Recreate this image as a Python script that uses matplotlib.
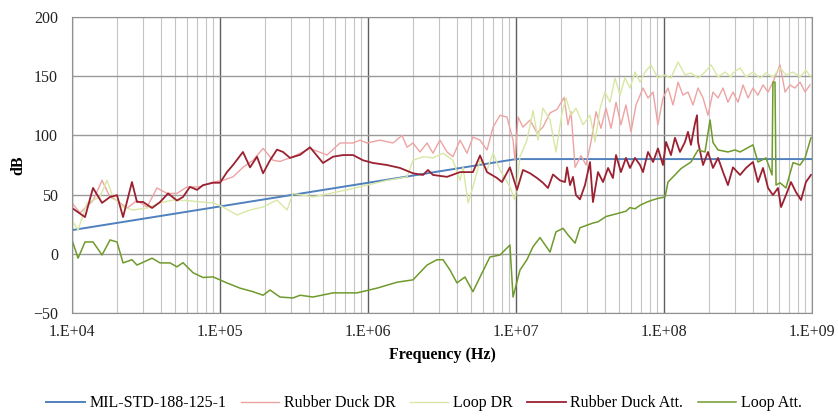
import numpy as np
import matplotlib
matplotlib.use("Agg")
import matplotlib.pyplot as plt
from matplotlib.ticker import FixedLocator, NullFormatter

plt.rcParams['font.family'] = ['Liberation Serif', 'DejaVu Serif']

# x values are log10(frequency in Hz), y values in dB
mil_logf = [4.0, 5.0, 6.0, 7.0, 9.0]
mil_db = [20, 40, 60, 80, 80]

rd_dr_logf = [4.000, 4.054, 4.142, 4.203, 4.257, 4.304, 4.372, 4.439, 4.507, 4.574,
              4.642, 4.709, 4.777, 4.865, 4.953, 5.020, 5.088, 5.155, 5.223, 5.291,
              5.358, 5.405, 5.493, 5.608, 5.723, 5.811, 5.899, 5.946, 5.993, 6.081,
              6.169, 6.230, 6.264, 6.304, 6.351, 6.399, 6.439, 6.486, 6.534, 6.574,
              6.622, 6.669, 6.709, 6.757, 6.804, 6.845, 6.892, 6.939, 6.980, 6.993,
              7.014, 7.047, 7.095, 7.142, 7.182, 7.230, 7.277, 7.325, 7.351, 7.372,
              7.399, 7.439, 7.473, 7.507, 7.541, 7.574, 7.608, 7.642, 7.676, 7.709,
              7.743, 7.777, 7.811, 7.858, 7.892, 7.926, 7.959, 7.993, 8.027, 8.061,
              8.095, 8.128, 8.162, 8.196, 8.230, 8.264, 8.297, 8.331, 8.365, 8.399,
              8.432, 8.466, 8.500, 8.534, 8.568, 8.601, 8.635, 8.669, 8.703, 8.736,
              8.784, 8.818, 8.851, 8.885, 8.919, 8.953, 8.986]
rd_dr_db = [43, 34.5, 45, 62, 48, 45, 38.6, 45, 39.5, 55.6,
            51, 51, 56.5, 56.5, 60.6, 62, 65, 73, 79, 89,
            79, 78, 82, 89, 83.4, 93.6, 93.6, 96, 93.6, 96,
            93.6, 100, 90, 93.6, 86, 93.6, 85, 96, 86, 82,
            96, 85, 98.6, 96, 87.7, 107, 117, 115.5, 96, 79,
            115.5, 107, 113, 102, 107, 119, 122, 132, 109, 120,
            73, 83, 75, 94.5, 120, 106, 123, 106, 128, 109,
            125.7, 103, 125.7, 140, 131.6, 136.6, 109, 131.6, 140, 125.7,
            145, 134, 136.6, 125.7, 140, 131.6, 117, 136.6, 131.6, 140,
            128, 136.6, 128, 142.6, 131.6, 140, 134, 142.6, 136.6, 145,
            159.5, 136.6, 142.6, 140, 145, 136.6, 142.6]

loop_dr_logf = [4.000, 4.041, 4.101, 4.189, 4.236, 4.277, 4.345, 4.412, 4.507, 4.595,
                4.682, 4.777, 4.865, 4.953, 5.020, 5.115, 5.203, 5.291, 5.385, 5.453,
                5.493, 5.628, 5.858, 5.993, 6.128, 6.264, 6.304, 6.372, 6.439, 6.507,
                6.574, 6.622, 6.642, 6.676, 6.709, 6.757, 6.804, 6.845, 6.892, 6.959,
                6.993, 7.027, 7.074, 7.115, 7.149, 7.182, 7.230, 7.270, 7.311, 7.338,
                7.372, 7.405, 7.453, 7.500, 7.534, 7.568, 7.601, 7.635, 7.669, 7.703,
                7.736, 7.770, 7.804, 7.838, 7.872, 7.912, 7.959, 8.007, 8.047, 8.095,
                8.142, 8.182, 8.230, 8.277, 8.318, 8.365, 8.412, 8.453, 8.466, 8.514,
                8.554, 8.601, 8.649, 8.689, 8.736, 8.784, 8.824, 8.872, 8.919, 8.959,
                8.993]
loop_dr_db = [28.5, 20, 43, 48, 62, 48, 39.5, 37, 38.7, 43,
              45.4, 45, 43.8, 43, 39.5, 32.8, 37, 39.5, 45.4, 37,
              51, 48, 54, 58, 62, 65, 79, 82, 81, 85,
              79, 62, 73, 43, 56.5, 79, 70.8, 85, 70.8, 56.5,
              45.4, 82, 96, 121, 96, 123, 113, 86, 119, 131.6,
              117, 123, 109, 117, 94.5, 123, 136.6, 128, 148.5, 134,
              148.5, 140, 153.5, 145, 153.5, 159.5, 148.5, 151, 148.5, 162,
              151, 152.7, 148.5, 153.5, 159.5, 149.3, 153.5, 149.3, 152.7, 157,
              149.3, 153.5, 148.5, 152.7, 149.3, 157, 151, 153.5, 149.3, 155,
              149.3]

rd_att_logf = [4.000, 4.088, 4.142, 4.203, 4.257, 4.304, 4.345, 4.405, 4.439, 4.480,
               4.541, 4.595, 4.649, 4.709, 4.750, 4.797, 4.845, 4.885, 4.953, 5.000,
               5.047, 5.088, 5.155, 5.203, 5.250, 5.291, 5.338, 5.385, 5.426, 5.473,
               5.541, 5.608, 5.696, 5.764, 5.831, 5.899, 5.966, 6.034, 6.128, 6.216,
               6.304, 6.372, 6.405, 6.439, 6.534, 6.622, 6.709, 6.757, 6.804, 6.872,
               6.905, 6.959, 7.007, 7.047, 7.095, 7.142, 7.182, 7.216, 7.250, 7.297,
               7.331, 7.345, 7.365, 7.385, 7.405, 7.432, 7.466, 7.500, 7.520, 7.554,
               7.588, 7.622, 7.655, 7.676, 7.709, 7.743, 7.770, 7.804, 7.838, 7.858,
               7.892, 7.926, 7.959, 7.993, 8.014, 8.047, 8.074, 8.108, 8.142, 8.162,
               8.182, 8.209, 8.223, 8.230, 8.264, 8.297, 8.331, 8.365, 8.399, 8.432,
               8.466, 8.514, 8.554, 8.601, 8.635, 8.669, 8.703, 8.736, 8.770, 8.791,
               8.824, 8.858, 8.892, 8.926, 8.959, 8.993]
rd_att_db = [38.7, 31, 55.6, 43, 48, 49.5, 31, 60.6, 43.8, 43.8,
             38.7, 43.7, 51, 45, 48, 56.5, 54, 58, 60, 60,
             69, 75, 86, 73, 82, 68, 79, 88, 86, 81,
             83.6, 90, 76.7, 82, 83.4, 83.4, 79, 76.7, 75, 72.5,
             68, 66.6, 70.8, 66.6, 65, 69, 69, 83, 69, 64,
             60.6, 73, 54, 70.8, 68, 64, 60, 55.6, 67, 62,
             60.6, 73, 58, 65, 49.6, 46, 58, 77.5, 43.7, 69,
             60.6, 72.5, 64, 83.4, 69, 81, 72.5, 81, 75, 69,
             86, 77.5, 89, 75, 94.5, 83.4, 98, 86, 94.5, 103,
             92, 110, 117, 94.5, 75, 86, 72.5, 81, 69, 58,
             73, 66.6, 72.5, 77.5, 60.6, 72.5, 55.6, 49.6, 55.6, 39.5,
             49.6, 60.6, 52, 45.4, 60.6, 66.6]

loop_att_logf = [4.000, 4.041, 4.088, 4.142, 4.203, 4.257, 4.304, 4.345, 4.405, 4.439,
                 4.541, 4.595, 4.662, 4.709, 4.750, 4.818, 4.885, 4.953, 5.047, 5.135,
                 5.223, 5.291, 5.338, 5.405, 5.493, 5.541, 5.628, 5.764, 5.926, 6.061,
                 6.196, 6.304, 6.399, 6.466, 6.507, 6.554, 6.601, 6.655, 6.709, 6.757,
                 6.824, 6.892, 6.959, 6.980, 7.027, 7.074, 7.115, 7.162, 7.230, 7.270,
                 7.318, 7.351, 7.399, 7.432, 7.520, 7.554, 7.608, 7.655, 7.703, 7.743,
                 7.770, 7.804, 7.838, 7.885, 7.912, 7.959, 8.007, 8.027, 8.074, 8.115,
                 8.182, 8.230, 8.277, 8.311, 8.331, 8.365, 8.432, 8.480, 8.514, 8.601,
                 8.635, 8.689, 8.730, 8.736, 8.750, 8.757, 8.784, 8.824, 8.872, 8.919,
                 8.953, 8.993]
loop_att_db = [11.7, -3.7, 10, 10, -1, 11.7, 10, -7.7, -5, -9.5,
               -3.7, -7.7, -7.7, -11, -7.5, -16, -20, -19.5, -24.6, -29,
               -32, -35, -30.6, -36.5, -37.3, -35, -36.5, -33, -33, -29,
               -24, -22, -9.5, -5, -5, -13.7, -24.6, -19.6, -32, -19.6,
               -2.7, -1, 7.4, -36.5, -13.7, -5, 6, 13.7, 1.5, 18.5,
               21.5, 16, 9, 22, 26, 27, 31.5, 33, 34.6, 36,
               39, 38, 41, 43.7, 45, 46.8, 48, 60.6, 66.6, 72,
               77.5, 87.7, 86, 113, 94, 87.7, 86, 87.7, 86, 92,
               77.5, 81, 66.6, 145, 145, 58, 60, 55.6, 77, 75,
               81, 98]

x_ticks = [1e4, 1e5, 1e6, 1e7, 1e8, 1e9]
x_tick_labels = ['1.E+04', '1.E+05', '1.E+06', '1.E+07', '1.E+08', '1.E+09']
y_ticks = [-50, 0, 50, 100, 150, 200]

series = [
    ('MIL-STD-188-125-1', mil_logf, mil_db, '#4f81bd', 1.4),
    ('Rubber Duck DR', rd_dr_logf, rd_dr_db, '#eea3a3', 1.0),
    ('Loop DR', loop_dr_logf, loop_dr_db, '#d8e8a4', 1.0),
    ('Rubber Duck Att.', rd_att_logf, rd_att_db, '#9b2131', 1.3),
    ('Loop Att.', loop_att_logf, loop_att_db, '#6f9a2c', 1.1),
]

fig = plt.figure(figsize=(8.38, 4.18), dpi=100)
ax = fig.add_axes([72 / 838, 1 - 313 / 418, 740 / 838, 296 / 418])

for name, lf, db, color, lw in series:
    ax.plot(10 ** np.array(lf), db, color=color, lw=lw, label=name)

ax.set_xscale('log')
ax.set_xlim(1e4, 1e9)
ax.set_ylim(-50, 200)
ax.set_xticks(x_ticks)
ax.set_xticklabels(x_tick_labels)
minor = [m * 10 ** p for p in range(4, 9) for m in range(2, 10)]
ax.xaxis.set_minor_locator(FixedLocator(minor))
ax.xaxis.set_minor_formatter(NullFormatter())
ax.set_yticks(y_ticks)

ax.grid(True, which='minor', axis='x', color='#c4c4c4', lw=0.8)
ax.grid(True, which='major', axis='x', color='#5e5e5e', lw=1.0)
ax.grid(True, which='major', axis='y', color='#999999', lw=1.0)
ax.set_axisbelow(True)
for sp in ax.spines.values():
    sp.set_color('#909090')

ax.tick_params(axis='both', which='both', length=0, labelsize=11.5, colors='#222222')
ax.tick_params(axis='x', pad=8)
ax.tick_params(axis='y', pad=10)

ax.set_xlabel('Frequency (Hz)', fontsize=11.5, fontweight='bold')
ax.xaxis.set_label_coords(0.5, -0.115)
ax.set_ylabel('dB', fontsize=11.5, fontweight='bold')
ax.yaxis.set_label_coords(-0.062, 0.5)

fig.legend(loc='center', bbox_to_anchor=(0.506, 0.035), ncol=5, frameon=False,
           fontsize=11.5, handlelength=2.4, handletextpad=0.3, columnspacing=0.9)

fig.savefig('out.png', dpi=100)
